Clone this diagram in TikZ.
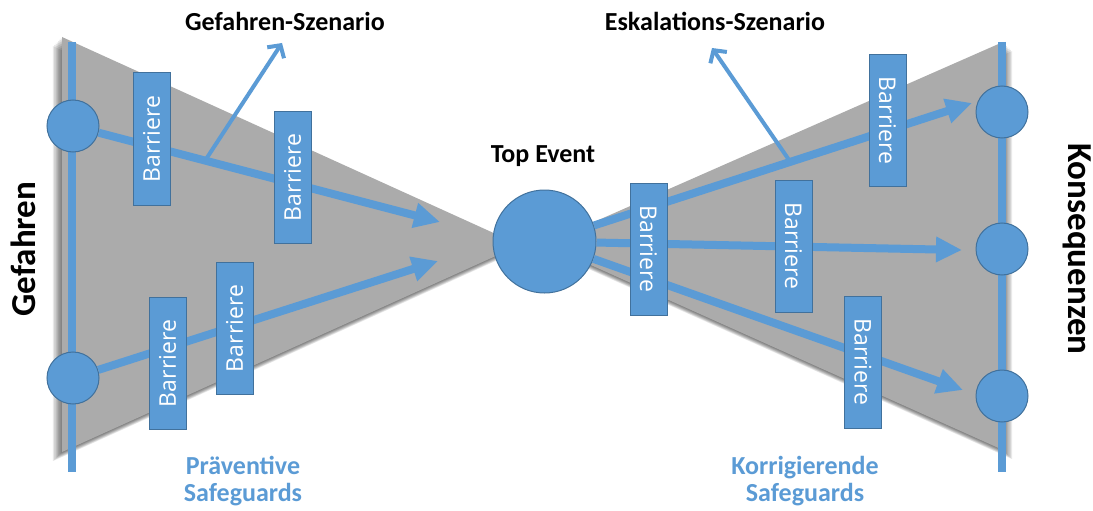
\documentclass[tikz,border=0pt]{standalone}
\usepackage{fontspec}
\setmainfont{Carlito}
\newfontfamily\barfont{Open Sans}
\usetikzlibrary{positioning,arrows.meta,calc}

\definecolor{bowblue}{HTML}{5B9BD5}
\definecolor{bowedge}{HTML}{41719C}
\definecolor{bowgray}{HTML}{ABABAB}

\begin{document}
\begin{tikzpicture}[x=1pt,y=-1pt,
		every node/.style={font=\bfseries\fontsize{26}{27}\selectfont},
		hazard/.style={draw=bowedge,line width=1pt,fill=bowblue,circle,minimum size=52pt,inner sep=0pt},
		barrier/.style={draw=bowedge,line width=1pt,fill=bowblue,text=white,minimum width=132pt,minimum height=37pt,inner sep=0pt,font=\barfont\fontsize{23}{23}\selectfont},
		flow/.style={bowblue,line width=8pt,-{Triangle[length=26pt,width=24pt]}},
		scen/.style={bowblue,line width=4pt,-{Straight Barb[length=9pt,width=20pt]}},
		sideline/.style={bowblue,line width=8pt},
		]
		\useasboundingbox (0,0) rectangle (1093,511);
		
		% Bow tie
		\foreach \k in {1,...,7}
		\fill[black,opacity=0.09,shift={(-\k*1.3,\k*1.3)}] (62,37) -- (62,452) -- (520,245) -- cycle;
		\foreach \k in {1,...,7}
		\fill[black,opacity=0.09,shift={(\k*1.3,\k*1.3)}] (1003,42) -- (1003,450) -- (544,244) -- cycle;
		\fill[bowgray] (62,37) -- (62,452) -- (520,245) -- cycle;
		\fill[bowgray] (1003,42) -- (1003,450) -- (544,244) -- cycle;
		
		% Side lines
		\coordinate (lt) at (72,42);
		\coordinate (lb) at (72,472);
		\coordinate (rt) at (1002,42);
		\coordinate (rb) at (1002,472);
		\draw[sideline] (lt) -- (lb);
		\draw[sideline] (rt) -- (rb);
		
		% Hazards and consequences
		\node[hazard] (g1) at (73,126) {};
		\node[hazard] (g2) at (73,378) {};
		\node[hazard] (k1) at (1002,112) {};
		\node[hazard] (k2) at (1002,249) {};
		\node[hazard] (k3) at (1002,396) {};
		
		% Top event
		\node[hazard,minimum size=103pt] (top) at (544.5,241.5) {};
		\node (topl) at (543,156) {Top Event};
		
		% Arrows
		\coordinate (gend1) at (440,222);
		\coordinate (gend2) at (438,261);
		\coordinate (kend1) at (972,103);
		\coordinate (kend2) at (962,250);
		\coordinate (kend3) at (963,390);
		\draw[flow] (g1) -- (gend1);
		\draw[flow] (g2) -- (gend2);
		\draw[flow] (top) -- (kend1);
		\draw[flow] (top) -- (kend2);
		\draw[flow] (top) -- (kend3);
		
		% Scenarios
		\node (gs) at (285,21) {Gefahren-Szenario};
		\node (es) at (715,21) {Eskalations-Szenario};
		\coordinate (gstip) at (282,43);
		\coordinate (estip) at (712,48);
		\draw[scen] ($(g1)!0.36!(gend1)$) -- (gstip);
		\draw[scen] ($(top)!0.575!(kend1)$) -- (estip);
		
		% Barriers
		\node[barrier,rotate=90] (b1) at (151.5,139) {Barriere};
		\node[barrier,rotate=90] (b2) at (292.5,177.5) {Barriere};
		\node[barrier,rotate=90] (b3) at (167.5,363.5) {Barriere};
		\node[barrier,rotate=90] (b4) at (234.5,328.5) {Barriere};
		\node[barrier,rotate=-90] (b5) at (648.5,249) {Barriere};
		\node[barrier,rotate=-90] (b6) at (793.5,246) {Barriere};
		\node[barrier,rotate=-90] (b7) at (887.5,120.5) {Barriere};
		\node[barrier,rotate=-90] (b8) at (863,362) {Barriere};
		
		% Labels
		\node[rotate=90,font=\bfseries\fontsize{35}{35}\selectfont] (gef) at (23,249) {Gefahren};
		\node[rotate=-90,font=\bfseries\fontsize{35}{35}\selectfont] (kon) at (1077,249) {Konsequenzen};
		\node[text=bowblue,align=center] (prev) at (243,481) {Präventive\\Safeguards};
		\node[text=bowblue,align=center] (korr) at (805,481) {Korrigierende\\Safeguards};
		
	\end{tikzpicture}
\end{document}
